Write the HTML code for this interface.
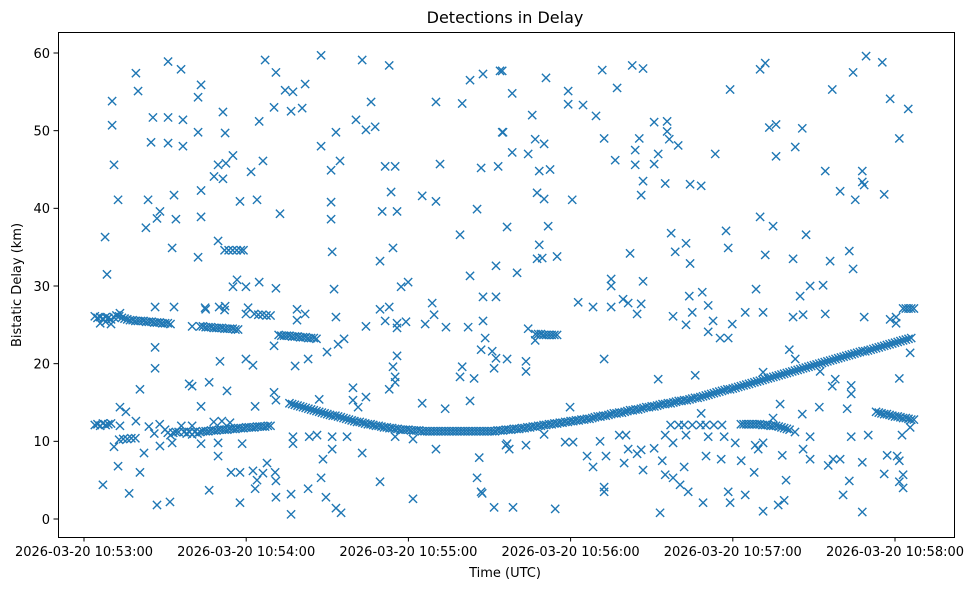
<!DOCTYPE html>
<html><head><meta charset="utf-8"><style>
html,body{margin:0;padding:0;background:#fff;}
svg{display:block;font-family:"DejaVu Sans","Liberation Sans",sans-serif;}
</style></head><body>
<svg id="chart" width="979" height="590" viewBox="0 0 979 590" xmlns="http://www.w3.org/2000/svg">
<rect width="979" height="590" fill="#fff"/>
<text x="505" y="23" text-anchor="middle" font-size="16" fill="#000">Detections in Delay</text>
<g id="marks"></g>
<rect x="58.5" y="32.5" width="896" height="505" fill="none" stroke="#000" stroke-width="1"/>
<g id="xticks"></g>
<g id="yticks"></g>
<text x="505" y="577" text-anchor="middle" font-size="13" fill="#000">Time (UTC)</text>
<text x="21" y="285" text-anchor="middle" font-size="13" fill="#000" transform="rotate(-90 21 285)">Bistatic Delay (km)</text>
</svg>
<script>
// seconds after 10:53:00
var xTickSeconds = [0, 60, 120, 180, 240, 300];
var xTickLabels = ["2026-03-20 10:53:00","2026-03-20 10:54:00","2026-03-20 10:55:00","2026-03-20 10:56:00","2026-03-20 10:57:00","2026-03-20 10:58:00"];
var yTickValues = [0, 10, 20, 30, 40, 50, 60];

var mainTrackTimes = [76,78,80,82,84,86,88,90,92,94,96,98,100,102,104,106,108,110,112,114,116,118,120,122,124,126,128,130,132,134,136,138,140,142,144,146,148,150,152,154,156,158,160,162,164,166,168,170,172,174,176,178,180,182,184,186,188,190,192,194,196,198,200,202,204,206,208,210,212,214,216,218,220,222,224,226,228,230,232,234,236,238,240,242,244,246,248,250,252,254,256,258,260,262,264,266,268,270,272,274,276,278,280,282,284,286,288,290,292,294,296,298,300,302,304,306];
var mainTrackDelays = [14.9,14.7,14.5,14.3,14.1,13.9,13.7,13.5,13.3,13.2,13.0,12.8,12.6,12.5,12.3,12.2,12.0,11.9,11.8,11.7,11.6,11.5,11.5,11.4,11.4,11.3,11.3,11.3,11.3,11.3,11.3,11.3,11.3,11.3,11.3,11.3,11.3,11.3,11.3,11.4,11.5,11.5,11.6,11.7,11.8,11.9,12.0,12.1,12.2,12.3,12.4,12.5,12.6,12.7,12.8,12.9,13.0,13.2,13.3,13.4,13.6,13.7,13.8,14.0,14.1,14.2,14.4,14.5,14.6,14.8,14.9,15.0,15.2,15.3,15.4,15.6,15.7,15.9,16.1,16.3,16.5,16.7,16.8,17.0,17.2,17.4,17.6,17.8,18.0,18.2,18.4,18.6,18.8,19.0,19.2,19.4,19.6,19.8,20.0,20.2,20.4,20.6,20.8,21.0,21.2,21.4,21.6,21.7,21.9,22.1,22.3,22.5,22.7,22.9,23.1,23.3];
var mainTrackTimesOdd = [77,79,81,83,85,87,89,91,93,95,97,99,101,103,105,107,109,111,113,115,117,119,121,123,125,127,129,131,133,135,137,139,141,143,145,147,149,151,153,155,157,159,161,163,165,167,169,171,173,175,177,179,181,183,185,187,189,191,193,195,197,199,201,203,205,207,209,211,213,215,217,219,221,223,225,227,229,231,233,235,237,239,241,243,245,247,249,251,253,255,257,259,261,263,265,267,269,271,273,275,277,279,281,283,285,287,289,291,293,295,297,299,301,303,305];
var mainTrackDelaysOdd = [14.8,14.6,14.4,14.2,14.0,13.8,13.6,13.4,13.3,13.1,12.9,12.7,12.5,12.4,12.2,12.1,12.0,11.8,11.7,11.6,11.5,11.5,11.4,11.4,11.3,11.3,11.3,11.3,11.3,11.3,11.3,11.3,11.3,11.3,11.3,11.3,11.3,11.3,11.4,11.4,11.5,11.6,11.6,11.7,11.8,11.9,12.0,12.1,12.2,12.3,12.4,12.5,12.6,12.7,12.8,12.9,13.1,13.2,13.3,13.5,13.6,13.7,13.9,14.0,14.1,14.3,14.4,14.5,14.7,14.8,14.9,15.1,15.2,15.3,15.5,15.6,15.8,16.0,16.2,16.4,16.6,16.7,16.9,17.1,17.3,17.5,17.7,17.9,18.1,18.3,18.5,18.7,18.9,19.1,19.3,19.5,19.7,19.9,20.1,20.3,20.5,20.7,20.9,21.1,21.3,21.5,21.6,21.8,22.0,22.2,22.4,22.6,22.8,23.0,23.2];

var sideTrackTimes = [4,5,6,7,8,9,10,11,12,13,14,15,16,18,20,22,24,26,28,30,32,6,8,10,17,19,21,23,25,27,29,31,
43,45,47,49,51,53,55,57,44,46,48,50,52,54,56,45,50,52,63,64.5,66,67.5,69,72,74,76,78,80,82,84,86,73,75,77,79,81,83,85,52,53.5,55,56.5,58,59,167,169,171,173,175,168,170,172,174,303,304,305,306,307,
4,5,6,7,8,9,10,13,14.5,16,17.5,19,24,26,28,30,32,34,36,38,40,42,31,33,35,37,39,41,
43,45,47,49,51,53,55,57,59,61,63,65,67,69,44,46,48,50,52,54,56,58,60,62,64,66,68,48,51,54,
243,245,247,249,251,253,255,257,259,261,263,244,246,248,250,252,254,256,258,260,293,295,297,299,301,303,305,307,294,296,298,300,302,304,306,217,220,222,225,228,230,233,236];
var sideTrackDelays = [26.1,25.9,26.0,25.8,26.0,25.9,25.7,26.0,26.2,26.1,25.9,25.8,25.7,25.6,25.5,25.5,25.4,25.3,25.3,25.2,25.1,25.2,25.4,25.1,25.6,25.5,25.5,25.4,25.4,25.3,25.2,25.2,
24.8,24.7,24.7,24.6,24.6,24.5,24.5,24.4,24.8,24.7,24.6,24.6,24.5,24.5,24.4,27.0,27.3,26.9,26.4,26.3,26.3,26.2,26.2,23.7,23.6,23.6,23.5,23.4,23.4,23.3,23.2,23.6,23.6,23.5,23.5,23.4,23.3,23.3,34.6,34.6,34.6,34.6,34.6,34.6,23.8,23.8,23.7,23.7,23.7,23.8,23.7,23.7,23.7,27.1,27.1,27.1,27.1,27.1,
12.1,12.2,12.0,12.3,12.1,12.2,12.3,10.2,10.3,10.3,10.4,10.4,11.9,11.0,12.2,11.5,10.8,11.2,12.0,11.0,10.9,11.0,11.1,11.1,11.2,11.2,11.2,11.2,
11.2,11.3,11.4,11.4,11.5,11.5,11.6,11.7,11.7,11.8,11.8,11.9,11.9,12.0,11.3,11.3,11.4,11.5,11.5,11.6,11.6,11.7,11.8,11.8,11.9,11.9,12.0,12.5,12.6,12.4,
12.2,12.2,12.2,12.2,12.1,12.1,12.0,11.9,11.7,11.5,11.2,12.2,12.2,12.2,12.2,12.1,12.0,12.0,11.8,11.6,13.8,13.6,13.5,13.3,13.2,13.0,12.9,12.8,13.7,13.5,13.4,13.2,13.1,13.0,12.8,12.1,12.1,12.1,12.1,12.1,12.1,12.1,12.1];

var clutterTimes = [10.4,10.4,11.1,12.6,7.8,8.5,19.2,20.0,31.1,35.9,25.5,31.1,36.6,24.8,31.1,36.6,42.2,43.3,42.2,23.7,28.1,27.0,33.3,34.0,43.3,43.3,22.9,32.6,42.2,51.4,52.2,49.6,48.1,51.4,52.5,55.1,61.8,57.7,64.0,66.2,64.8,67.0,71.0,70.3,74.4,77.3,81.8,76.6,80.7,87.7,87.7,93.2,91.4,94.7,102.9,112.9,106.2,100.6,104.3,107.7,111.4,115.1,113.6,110.3,115.8,91.4,91.4,72.5,91.8,109.5,114.3,125.1,130.2,130.2,139.9,142.8,147.6,153.9,131.7,146.9,153.2,145.4,139.1,154.7,
49.6,55.1,56.6,59.9,64.8,71.0,92.5,117.3,119.9,142.8,152.4,147.6,152.4,26.3,33.3,13.3,40.0,26.3,26.3,44.8,52.2,60.7,59.9,78.8,81.8,78.8,93.2,104.3,109.5,112.9,111.4,115.8,115.8,119.1,126.2,128.8,129.5,133.9,142.1,147.6,148.4,146.9,151.0,152.4,151.7,70.3,89.9,94.0,96.2,50.3,59.9,62.5,78.1,82.9,115.8,114.3,115.1,115.1,112.9,139.1,139.9,144.3,20.7,38.9,40.0,46.3,52.9,43.3,13.3,15.5,63.3,70.3,71.0,87.0,99.5,99.5,101.4,104.3,125.1,133.6,142.8,
11.1,13.3,19.2,22.2,20.7,12.6,7.0,16.7,27.0,31.8,28.1,32.6,40.0,43.3,49.6,49.6,46.3,54.4,57.7,58.5,57.7,62.5,64.0,63.3,66.2,67.7,70.7,71.0,71.0,76.6,76.6,77.3,77.3,82.9,83.3,86.2,88.4,87.7,89.5,91.8,91.8,93.2,95.1,97.3,102.9,109.5,121.7,121.7,130.2,146.2,145.4,146.9,147.3,151.7,156.1,115.1,
154.7,158.4,170.9,179.1,179.1,184.6,189.4,191.7,197.2,202.8,206.8,165.8,155.0,166.9,170.2,158.4,164.3,168.4,172.4,167.6,170.2,180.6,192.4,196.5,205.4,203.9,203.9,212.4,210.9,215.7,215.7,216.5,219.8,210.9,206.8,206.1,215.0,224.2,228.3,233.5,239.0,250.1,252.0,253.5,256.0,265.7,263.1,256.0,276.8,284.5,289.3,295.3,298.2,304.9,301.6,274.2,287.9,287.9,288.6,279.7,285.3,296.0,
156.5,171.7,168.4,167.6,169.5,175.0,160.2,217.2,222.7,218.7,224.2,237.5,238.3,202.0,250.1,254.9,267.1,252.0,262.3,276.0,283.1,284.5,195.0,195.0,206.8,223.9,228.7,230.9,248.6,264.9,268.6,273.4,182.8,188.3,195.0,199.4,201.3,206.1,204.6,217.9,222.7,225.0,232.7,230.9,235.3,238.3,239.8,244.6,251.2,262.3,266.0,274.2,288.6,298.2,300.4,300.4,164.3,166.9,156.5,163.5,163.5,192.4,212.4,226.1,260.9,263.1,272.3,277.9,276.8,283.8,283.8,301.6,305.6,179.8,228.3,251.2,257.5,272.0,282.3,265.7,254.9,
156.5,157.3,163.5,170.2,178.0,180.9,186.1,188.3,190.9,193.1,198.0,199.8,200.5,201.3,204.6,206.1,206.8,210.9,213.9,215.0,215.0,217.9,217.9,220.5,222.0,223.5,222.7,192.4,192.4,158.7,174.3,213.1,229.0,230.1,230.9,235.7,236.8,238.3,239.0,240.9,243.1,244.6,247.9,248.3,249.4,251.2,251.2,258.3,259.7,256.8,259.0,266.0,268.6,268.6,275.3,277.1,279.7,280.8,283.1,283.8,287.9,287.9,290.1,296.0,297.1,300.8,301.6,301.6,303.0,303.0,302.6,305.6];
var clutterDelays = [53.8,50.7,45.6,41.1,36.3,31.5,57.4,55.1,58.9,57.9,51.7,51.7,51.4,48.5,48.4,48.0,54.3,55.9,49.8,41.1,39.6,38.7,41.7,38.6,42.3,38.9,37.5,34.9,33.7,52.4,49.7,45.6,44.1,43.8,45.8,46.8,44.7,40.9,41.1,46.1,51.2,59.1,57.5,53.0,55.2,55.0,56.0,52.5,52.9,59.7,48.0,49.8,44.9,46.1,59.1,58.4,53.7,51.4,50.1,50.5,45.4,45.4,42.1,39.6,39.6,40.8,38.6,39.3,34.4,33.2,34.9,41.6,40.9,53.7,53.5,56.5,57.3,57.7,45.7,45.2,45.4,39.9,36.6,49.8,
35.8,29.9,30.8,29.9,30.5,29.7,29.6,29.9,30.5,31.3,32.6,28.6,28.6,27.3,27.3,26.5,24.8,22.1,19.4,27.2,27.4,27.2,26.4,27.0,26.4,25.6,26.0,24.8,27.0,27.3,25.5,25.2,24.6,25.4,25.1,27.8,26.3,24.7,24.7,25.5,23.3,21.8,21.6,20.7,19.4,22.3,21.5,22.5,23.2,20.3,20.6,19.8,19.7,20.6,21.0,19.6,18.3,17.6,16.7,18.3,19.6,18.1,16.7,17.4,17.1,17.6,16.5,14.5,14.4,13.8,14.5,16.3,15.3,15.4,16.9,15.3,14.4,15.7,14.9,14.2,15.2,
9.3,12.0,12.6,8.5,6.0,6.8,4.4,3.3,1.8,2.2,9.4,9.8,12.0,9.7,9.8,8.1,3.7,6.0,6.0,9.7,2.1,6.2,5.0,3.9,5.9,7.2,6.0,4.9,2.8,3.2,0.6,10.6,9.7,3.9,10.6,10.8,7.7,5.3,2.8,10.6,9.0,1.4,0.8,10.6,8.5,4.8,2.6,10.3,9.0,7.9,5.3,3.5,3.3,1.5,9.5,10.6,
57.7,54.8,56.8,55.1,53.4,53.3,51.9,57.8,55.5,58.4,58.0,52.0,49.8,48.9,48.3,47.2,47.0,44.8,45.0,42.0,41.2,41.1,49.0,46.2,49.0,47.5,45.6,47.0,51.1,51.2,49.9,48.9,48.1,45.7,43.5,41.7,43.2,43.1,42.9,47.0,55.3,57.9,58.7,50.4,50.8,50.3,47.9,46.7,55.3,57.5,59.6,58.8,54.1,52.8,49.0,44.8,44.8,43.4,43.0,42.2,41.1,41.8,
37.6,37.7,35.3,33.5,33.6,33.8,31.7,36.8,35.5,34.4,32.9,37.1,34.9,34.2,38.9,37.7,36.6,34.0,33.5,33.2,34.5,32.2,30.9,30.0,30.6,28.7,29.2,27.5,29.6,28.7,30.0,30.1,27.9,27.3,27.3,28.3,27.8,27.7,26.4,26.1,25.0,26.6,25.5,24.1,23.3,23.3,25.1,26.6,26.6,26.0,26.3,26.4,26.0,25.7,25.2,26.0,24.5,23.0,20.6,20.3,19.0,20.6,18.0,18.5,21.8,20.6,19.0,18.0,17.1,17.2,16.1,18.1,21.4,14.4,13.6,18.9,14.8,14.4,14.2,13.5,13.0,
9.7,9.0,9.5,10.9,9.9,9.9,8.1,6.7,10.0,8.1,10.8,7.2,10.8,9.0,8.4,8.9,6.3,9.1,7.5,10.8,5.7,9.8,5.3,4.4,6.7,3.5,10.8,4.1,3.5,1.5,1.3,0.8,2.1,8.1,10.6,7.7,10.6,3.5,2.1,9.8,7.5,3.1,6.0,9.5,9.0,9.8,1.0,8.2,5.0,1.8,2.4,9.0,7.7,10.6,6.9,7.7,7.7,3.1,4.9,10.6,7.3,0.9,10.8,5.8,8.2,8.1,7.5,4.8,5.7,4.0,10.8,11.8];

var NS = "http://www.w3.org/2000/svg";
var plotLeft = 58, plotRight = 954, plotTop = 32, plotBottom = 537;
function xScale(sec){ return 84 + sec * (162.2 / 60); }
function yScale(km){ return 519 - km * (466 / 60); }

var marks = document.getElementById("marks");
function drawX(t, d){
  var cx = xScale(t), cy = yScale(d), r = 4.1;
  var p = document.createElementNS(NS, "path");
  p.setAttribute("d", "M"+(cx-r)+" "+(cy-r)+"L"+(cx+r)+" "+(cy+r)+"M"+(cx-r)+" "+(cy+r)+"L"+(cx+r)+" "+(cy-r));
  p.setAttribute("stroke", "#1f77b4");
  p.setAttribute("stroke-width", "1.4");
  p.setAttribute("fill", "none");
  
  
  marks.appendChild(p);
}
var i;
for (i = 0; i < mainTrackTimes.length; i++) drawX(mainTrackTimes[i], mainTrackDelays[i]);
for (i = 0; i < mainTrackTimesOdd.length; i++) drawX(mainTrackTimesOdd[i], mainTrackDelaysOdd[i]);
for (i = 0; i < sideTrackTimes.length; i++) drawX(sideTrackTimes[i], sideTrackDelays[i]);
for (i = 0; i < clutterTimes.length; i++) drawX(clutterTimes[i], clutterDelays[i]);

var xt = document.getElementById("xticks");
for (i = 0; i < xTickSeconds.length; i++) {
  var x = xScale(xTickSeconds[i]);
  var ln = document.createElementNS(NS, "line");
  ln.setAttribute("x1", x); ln.setAttribute("x2", x);
  ln.setAttribute("y1", plotBottom); ln.setAttribute("y2", plotBottom + 4.5);
  ln.setAttribute("stroke", "#000");
  
  
  xt.appendChild(ln);
  var tx = document.createElementNS(NS, "text");
  tx.setAttribute("x", x); tx.setAttribute("y", plotBottom + 19);
  tx.setAttribute("text-anchor", "middle");
  tx.setAttribute("font-size", "13");
  tx.textContent = xTickLabels[i];
  
  
  xt.appendChild(tx);
}
var yt = document.getElementById("yticks");
for (i = 0; i < yTickValues.length; i++) {
  var y = yScale(yTickValues[i]);
  var l2 = document.createElementNS(NS, "line");
  l2.setAttribute("x1", plotLeft - 4.5); l2.setAttribute("x2", plotLeft);
  l2.setAttribute("y1", y); l2.setAttribute("y2", y);
  l2.setAttribute("stroke", "#000");
  
  
  yt.appendChild(l2);
  var t2 = document.createElementNS(NS, "text");
  t2.setAttribute("x", plotLeft - 8); t2.setAttribute("y", y + 4.8);
  t2.setAttribute("text-anchor", "end");
  t2.setAttribute("font-size", "13");
  t2.textContent = yTickValues[i];
  
  
  yt.appendChild(t2);
}
</script>
</body></html>
